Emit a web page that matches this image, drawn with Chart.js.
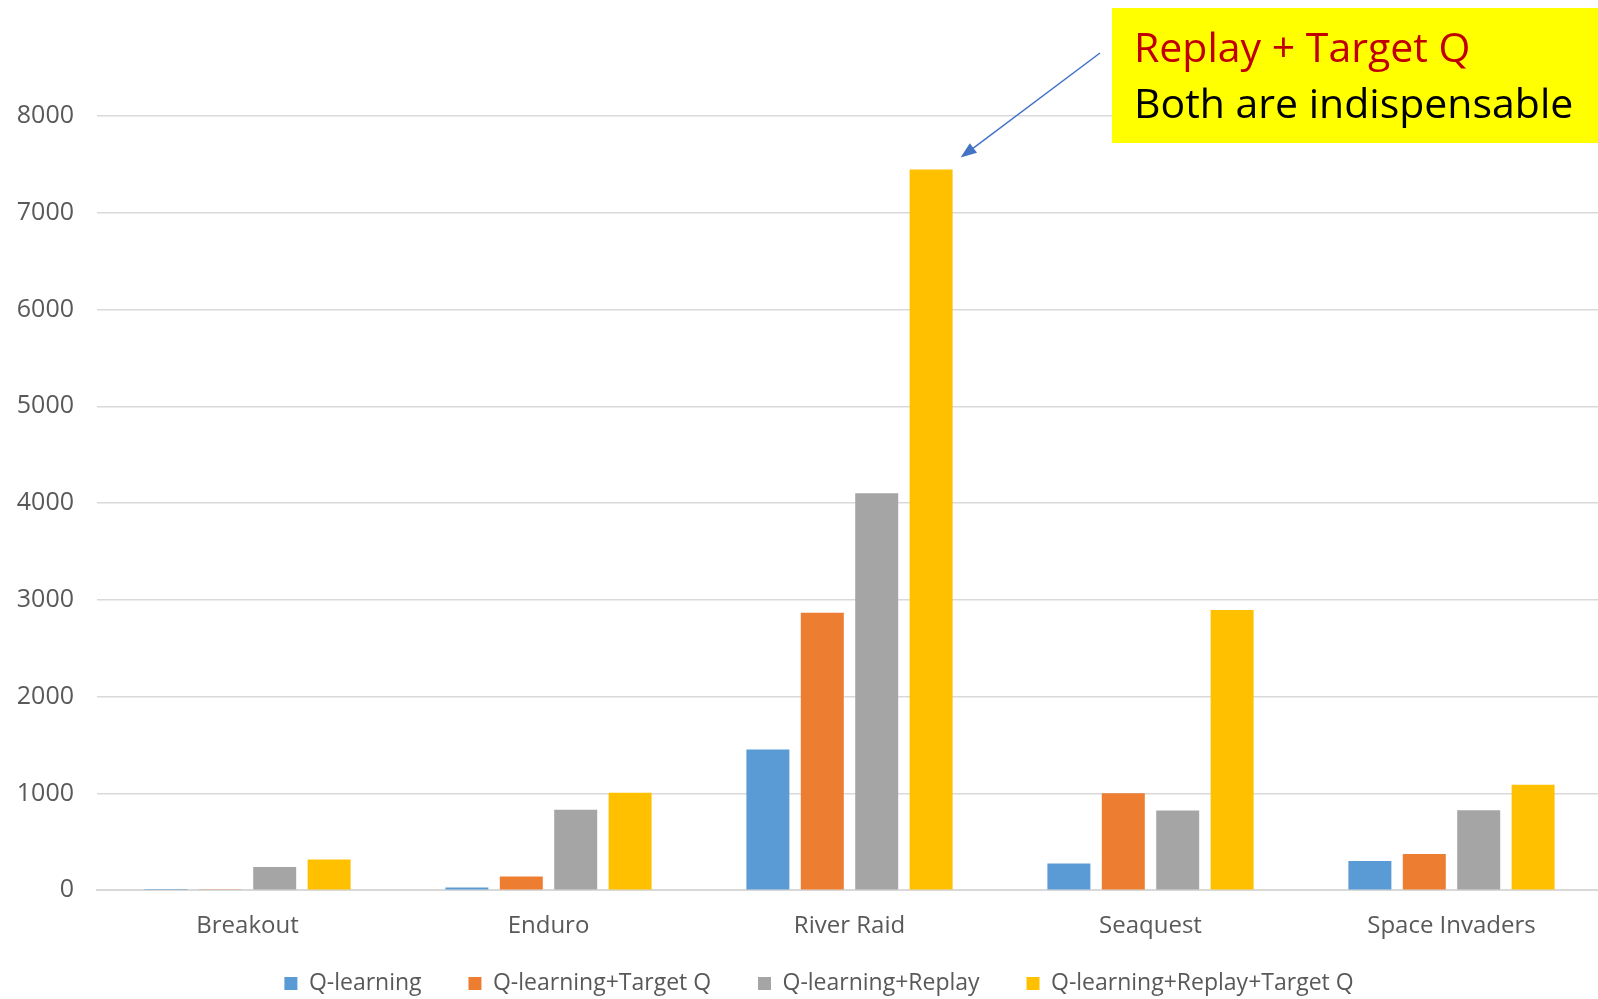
<!DOCTYPE html>
<html>
<head>
<meta charset="utf-8">
<script src="https://cdn.jsdelivr.net/npm/chart.js@4.4.1/dist/chart.umd.min.js"></script>
<style>
  body { margin: 0; background: #ffffff; }
  #wrap { width: 1598px; height: 999px; }
</style>
</head>
<body>
<div id="wrap"><canvas id="myChart"></canvas></div>
<script>
// games on the x axis
var games = ['Breakout', 'Enduro', 'River Raid', 'Seaquest', 'Space Invaders'];

// scores per setup
var qLearning       = [3.2, 29.1, 1453.0, 275.8, 302.0];
var qTarget         = [10.2, 141.9, 2867.7, 1003.0, 373.2];
var qReplay         = [240.7, 831.4, 4102.8, 822.6, 826.3];
var qReplayTarget   = [316.8, 1006.3, 7446.6, 2894.4, 1088.9];

var seriesNames = ['Q-learning', 'Q-learning+Target Q', 'Q-learning+Replay', 'Q-learning+Replay+Target Q'];
var yTicks = [0, 1000, 2000, 3000, 4000, 5000, 6000, 7000, 8000];

var colors = ['#5B9BD5', '#ED7D31', '#A5A5A5', '#FFC000'];
var textColor = '#595959';
var gridColor = '#D9D9D9';
var font = '"Open Sans", "DejaVu Sans", sans-serif';

// the plot runs a few pixels past the right edge in the original,
// and the legend sits a bit right of the page centre
var stretchPlugin = {
    id: 'stretch',
    afterLayout: function(chart) {
        var s = chart.scales.x;
        s.right += 4;
        s.width += 4;
        s.configure();
        chart.legend.left += 40;
    }
};

// yellow note with arrow pointing at the River Raid bar
var notePlugin = {
    id: 'note',
    afterDraw: function(chart) {
        var ctx = chart.ctx;
        var bar = chart.getDatasetMeta(3).data[2];
        ctx.save();
        ctx.fillStyle = '#FFFF00';
        ctx.fillRect(1112, 8, chart.width - 1112, 135);

        ctx.font = '41px ' + font;
        ctx.textBaseline = 'alphabetic';
        ctx.textAlign = 'left';
        ctx.fillStyle = '#C00000';
        ctx.fillText('Replay + Target Q', 1134, 62);
        ctx.fillStyle = '#000000';
        ctx.fillText('Both are indispensable', 1134, 118);

        // arrow
        var x1 = 1100, y1 = 53;
        var x2 = bar.x + bar.width / 2 + 8, y2 = bar.y - 12;
        var ang = Math.atan2(y2 - y1, x2 - x1);
        ctx.strokeStyle = '#4472C4';
        ctx.fillStyle = '#4472C4';
        ctx.lineWidth = 1.5;
        ctx.beginPath();
        ctx.moveTo(x1, y1);
        ctx.lineTo(x2 - 10 * Math.cos(ang), y2 - 10 * Math.sin(ang));
        ctx.stroke();
        ctx.beginPath();
        ctx.moveTo(x2, y2);
        ctx.lineTo(x2 - 16 * Math.cos(ang) + 6 * Math.sin(ang), y2 - 16 * Math.sin(ang) - 6 * Math.cos(ang));
        ctx.lineTo(x2 - 16 * Math.cos(ang) - 6 * Math.sin(ang), y2 - 16 * Math.sin(ang) + 6 * Math.cos(ang));
        ctx.closePath();
        ctx.fill();
        ctx.restore();
    }
};

function drawChart()
{
    var ctx = document.getElementById('myChart').getContext('2d');
    var values = [qLearning, qTarget, qReplay, qReplayTarget];
    var datasets = seriesNames.map(function(name, i) {
        return {
            label: name,
            data: values[i],
            backgroundColor: colors[i],
            borderWidth: 0,
            categoryPercentage: 0.723,
            barPercentage: 0.79
        };
    });

    var chart = new Chart(ctx, {
        type: 'bar',
        data: {
            labels: games,
            datasets: datasets
        },
        plugins: [stretchPlugin, notePlugin],
        options: {
            maintainAspectRatio: false,
            animation: false,
            layout: {
                padding: { top: 116, right: 0, bottom: -6, left: 0 }
            },
            plugins: {
                legend: {
                    position: 'bottom',
                    labels: {
                        boxWidth: 13,
                        boxHeight: 13,
                        padding: 17,
                        color: textColor,
                        font: { family: font, size: 23 },
                        // wider gaps between legend entries, like the original
                        generateLabels: function(chart) {
                            var items = Chart.defaults.plugins.legend.labels.generateLabels(chart);
                            items.forEach(function(it, i) {
                                if (i < items.length - 1) it.text = it.text + '     ';
                            });
                            return items;
                        }
                    }
                },
                tooltip: { enabled: false }
            },
            scales: {
                x: {
                    grid: { display: false },
                    border: { color: gridColor, width: 2 },
                    ticks: {
                        color: textColor,
                        padding: 14,
                        font: { family: font, size: 24 }
                    }
                },
                y: {
                    min: 0,
                    max: 8000,
                    afterBuildTicks: function(scale) {
                        scale.ticks = yTicks.map(function(v) { return { value: v }; });
                    },
                    afterFit: function(scale) { scale.width = 97; },
                    grid: { color: gridColor, lineWidth: 1.5, drawTicks: false },
                    border: { display: false },
                    ticks: {
                        color: textColor,
                        padding: 23,
                        font: { family: font, size: 25 },
                        callback: function(v) { return v; }
                    }
                }
            }
        }
    });
}
drawChart();
</script>
</body>
</html>
